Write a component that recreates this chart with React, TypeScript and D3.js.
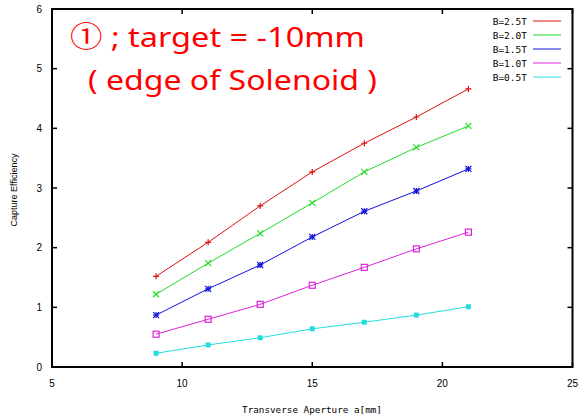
import React, { useRef, useEffect } from 'react';
import * as d3 from 'd3';

// aperture values (mm)
const apertures = [9, 11, 13, 15, 17, 19, 21];
const seriesNames = ['B=2.5T', 'B=2.0T', 'B=1.5T', 'B=1.0T', 'B=0.5T'];
const seriesColors = ['#e01010', '#22dd22', '#1010dd', '#dd22dd', '#22dddd'];
const seriesMarkers = ['plus', 'cross', 'star', 'box', 'fbox'];
const b25 = [1.52, 2.09, 2.70, 3.27, 3.75, 4.19, 4.66];
const b20 = [1.22, 1.74, 2.24, 2.75, 3.27, 3.68, 4.04];
const b15 = [0.87, 1.31, 1.71, 2.18, 2.61, 2.95, 3.32];
const b10 = [0.55, 0.80, 1.05, 1.37, 1.67, 1.98, 2.26];
const b05 = [0.23, 0.37, 0.49, 0.64, 0.75, 0.87, 1.01];
const seriesValues = [b25, b20, b15, b10, b05];
const xTicks = [5, 10, 15, 20, 25];
const yTicks = [0, 1, 2, 3, 4, 5, 6];

const W = 581;
const H = 419;

const Chart = () => {
    const ref = useRef<SVGSVGElement>(null);

    useEffect(() => {
        const svg = d3.select(ref.current);
        svg.selectAll('*').remove();

        const left = 52, right = 572.5, top = 9, bottom = 367;
        const x = d3.scaleLinear().domain([5, 25]).range([left, right]);
        const y = d3.scaleLinear().domain([0, 6]).range([bottom, top]);

        svg.append('rect').attr('width', W).attr('height', H).attr('fill', '#fff');

        // ticks (mirrored, inward)
        const tk = svg.append('g').attr('stroke', '#000').attr('stroke-width', 1.5);
        xTicks.forEach(t => {
            tk.append('line').attr('x1', x(t)).attr('x2', x(t)).attr('y1', bottom).attr('y2', bottom - 5);
            tk.append('line').attr('x1', x(t)).attr('x2', x(t)).attr('y1', top).attr('y2', top + 5);
        });
        yTicks.forEach(t => {
            tk.append('line').attr('x1', left).attr('x2', left + 5).attr('y1', y(t)).attr('y2', y(t));
            tk.append('line').attr('x1', right).attr('x2', right - 5).attr('y1', y(t)).attr('y2', y(t));
        });

        // tick labels
        const lab = svg.append('g').attr('font-family', 'Liberation Sans, Arial, sans-serif')
            .attr('font-size', 10).attr('fill', '#000');
        xTicks.forEach(t => {
            lab.append('text').attr('x', x(t)).attr('y', bottom + 20).attr('text-anchor', 'middle').text(t);
        });
        yTicks.forEach(t => {
            lab.append('text').attr('x', left - 10).attr('y', y(t) + 3.5).attr('text-anchor', 'end').text(t);
        });

        // axis titles
        svg.append('text').attr('x', 312).attr('y', 413)
            .attr('font-family', 'DejaVu Sans Mono, monospace').attr('font-size', 9.3)
            .attr('text-anchor', 'middle').text('Transverse Aperture a[mm]');
        svg.append('text').attr('transform', 'translate(17,190) rotate(-90)')
            .attr('font-family', 'Liberation Sans, Arial, sans-serif').attr('font-size', 9)
            .attr('text-anchor', 'middle').text('Capture Efficiency');

        // series
        const line = d3.line<number>().x((_, i) => x(apertures[i])).y(d => y(d));
        seriesValues.forEach((vals, si) => {
            const c = seriesColors[si];
            const g = svg.append('g');
            g.append('path').attr('d', line(vals)).attr('fill', 'none').attr('stroke', c).attr('stroke-width', 1);
            vals.forEach((v, i) => {
                const px = x(apertures[i]), py = y(v);
                const m = seriesMarkers[si];
                const s = 3;
                if (m === 'plus' || m === 'star') {
                    g.append('path').attr('d', `M${px - s},${py}H${px + s}M${px},${py - s}V${py + s}`)
                        .attr('stroke', c).attr('stroke-width', 1.2);
                }
                if (m === 'cross' || m === 'star') {
                    g.append('path').attr('d', `M${px - s},${py - s}L${px + s},${py + s}M${px - s},${py + s}L${px + s},${py - s}`)
                        .attr('stroke', c).attr('stroke-width', 1.2);
                }
                if (m === 'box') {
                    g.append('rect').attr('x', px - 3).attr('y', py - 3).attr('width', 6).attr('height', 6)
                        .attr('fill', 'none').attr('stroke', c).attr('stroke-width', 1.2);
                }
                if (m === 'fbox') {
                    g.append('rect').attr('x', px - 2.5).attr('y', py - 2.5).attr('width', 5).attr('height', 5).attr('fill', c);
                }
            });
        });

        // frame
        svg.append('rect').attr('x', left).attr('y', top).attr('width', right - left).attr('height', bottom - top)
            .attr('fill', 'none').attr('stroke', '#000').attr('stroke-width', 2);

        // legend
        const lg = svg.append('g');
        seriesNames.forEach((n, i) => {
            const ly = 21 + i * 14;
            lg.append('text').attr('x', 527).attr('y', ly + 3.5).attr('text-anchor', 'end')
                .attr('font-family', 'DejaVu Sans Mono, monospace').attr('font-size', 9.5).text(n);
            lg.append('line').attr('x1', 533).attr('x2', 561).attr('y1', ly).attr('y2', ly)
                .attr('stroke', seriesColors[i]).attr('stroke-width', 1);
        });

        // annotation
        const ann = svg.append('g').attr('fill', '#ff0000')
            .attr('font-family', 'Noto Sans, Noto Sans CJK JP, sans-serif').attr('font-size', 28);
        ann.append('text').attr('x', 70).attr('y', 47).attr('textLength', 295)
            .attr('lengthAdjust', 'spacingAndGlyphs').text('① ; target = -10mm');
        ann.append('text').attr('x', 88).attr('y', 90).attr('textLength', 289)
            .attr('lengthAdjust', 'spacingAndGlyphs').text('( edge of Solenoid )');
    }, []);

    return <svg ref={ref} width={W} height={H} style={{ display: 'block', position: 'fixed', left: 0, top: 0 }}></svg>;
};

export default function App() {
    return (
        <div>
            <Chart />
        </div>
    );
}
